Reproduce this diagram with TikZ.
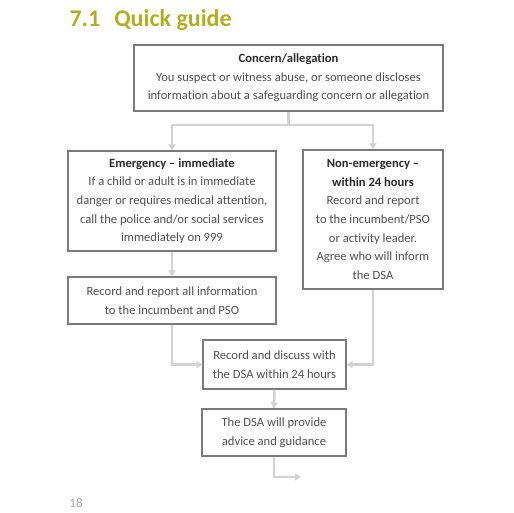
\documentclass[tikz,border=0pt]{standalone}
\usepackage{fontspec}
\setmainfont[Ligatures=NoCommon]{Carlito}
\usetikzlibrary{arrows.meta}
\definecolor{olive}{HTML}{B3AD1F}
\definecolor{boxline}{HTML}{7A7A7A}
\definecolor{conn}{HTML}{D2D2D2}
\definecolor{txt}{HTML}{4F4F4F}
\definecolor{head}{HTML}{2A2A2A}
\begin{document}
\begin{tikzpicture}[x=1pt,y=-1pt,
  box/.style={draw=boxline,line width=1.1pt,inner sep=0pt,align=center,
    text=txt,font=\fontsize{12.6}{18.6}\selectfont},
  conn/.style={draw=conn,line width=2.4pt,-{Triangle[width=7pt,length=6pt]}},
  connline/.style={draw=conn,line width=2.4pt}]
\useasboundingbox (0,0) rectangle (514,512);
\node[anchor=west,text=olive,font=\fontsize{24}{26}\selectfont\bfseries] (title) at (66,20) {7.1\hspace{14pt}Quick guide};
\node[box,minimum width=309pt,minimum height=66pt] (top) at (288.5,78)
  {{\color{head}\bfseries Concern/allegation}\\You suspect or witness abuse, or someone discloses\\information about a safeguarding concern or allegation};
\node[box,minimum width=208pt,minimum height=100pt] (emerg) at (172,201)
  {{\color{head}\bfseries Emergency -- immediate}\\If a child or adult is in immediate\\danger or requires medical attention,\\call the police and/or social services\\immediately on 999};
\node[box,minimum width=140pt,minimum height=139pt] (nonem) at (373,219.5)
  {{\color{head}\bfseries Non-emergency --}\\{\color{head}\bfseries within 24 hours}\\Record and report\\to the incumbent/PSO\\or activity leader.\\Agree who will inform\\the DSA};
\node[box,minimum width=208pt,minimum height=47pt] (record) at (172,300.5)
  {Record and report all information\\to the incumbent and PSO};
\node[box,minimum width=143pt,minimum height=49pt] (dsa) at (274.5,364.5)
  {Record and discuss with\\the DSA within 24 hours};
\node[box,minimum width=144pt,minimum height=47pt] (final) at (274,432.5)
  {The DSA will provide\\advice and guidance};
\node[text=black!35,font=\fontsize{13}{15}\selectfont] (page) at (76,503) {18};
\coordinate (j) at (288.5,125);
\coordinate (out) at (301,477);
\draw[connline] (top.south) -- (j);
\draw[conn] (j) -| (emerg.north);
\draw[conn] (j) -| (nonem.north);
\draw[conn] (emerg.south) -- (record.north);
\draw[conn] (record.south) |- (dsa.west);
\draw[conn] (nonem.south) |- (dsa.east);
\draw[conn] (dsa.south) -- (final.north);
\draw[conn] (final.south) |- (out);
\end{tikzpicture}
\end{document}
